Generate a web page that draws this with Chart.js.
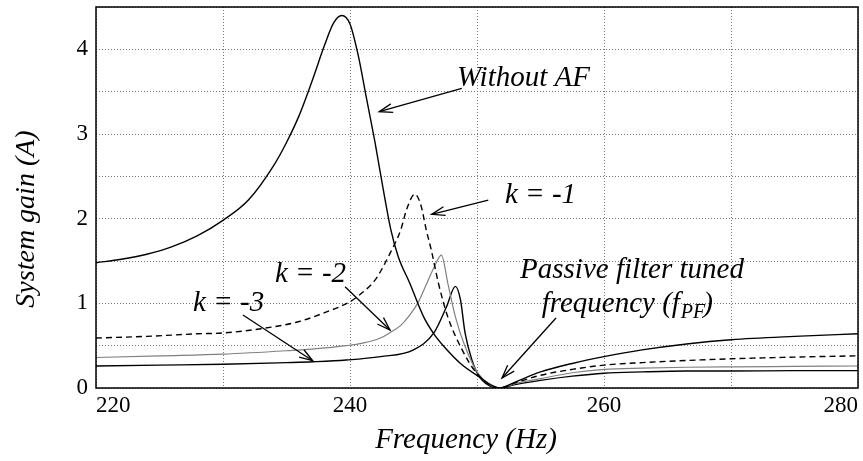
<!DOCTYPE html>
<html>
<head>
<meta charset="utf-8">
<script src="https://cdn.jsdelivr.net/npm/chart.js@4/dist/chart.umd.min.js"></script>
<style>
html,body{margin:0;padding:0;background:#fff;}
canvas{display:block;}
</style>
</head>
<body>
<canvas id="c" width="863" height="461"></canvas>
<script>
// ---- data ----
const freqWithoutAF = [220,222,224,226,228,230,232,234,235,236,237,238,238.7,239.35,240,240.66,241.3,241.97,242.6,243.2,243.8,244.7,245.8,246.6,247.4,248.7,250,251.8,253,255,257.5,260,263,266.5,270,275,280];
const gainWithoutAF = [1.48,1.52,1.58,1.67,1.80,1.98,2.22,2.63,2.90,3.22,3.62,4.05,4.31,4.40,4.30,3.92,3.42,2.90,2.36,1.88,1.55,1.24,0.84,0.64,0.49,0.29,0.15,0,0.07,0.19,0.29,0.37,0.45,0.52,0.57,0.61,0.64];

const freqK1 = [220,224,228,230,233,236,238,240,241,242,243.15,244,244.46,245.1,245.6,246,246.4,246.96,247.7,248.7,250,251.8,253,255,257.5,260,263,266.5,270,275,280];
const gainK1 = [0.59,0.61,0.64,0.65,0.70,0.785,0.89,1.02,1.13,1.28,1.59,1.87,2.11,2.29,2.15,1.87,1.63,1.24,0.84,0.49,0.17,0,0.06,0.15,0.22,0.27,0.30,0.325,0.345,0.365,0.38];

const freqK2 = [220,225,230,235,237,239.7,241,242.4,243.1,244,244.7,245.4,246,246.6,247.2,247.7,248.3,249.06,250.1,251.8,253,255,257.5,260,263,266.5,270,275,280];
const gainK2 = [0.36,0.38,0.40,0.44,0.46,0.50,0.53,0.59,0.65,0.74,0.86,1.02,1.22,1.42,1.57,1.24,0.84,0.49,0.17,0,0.05,0.11,0.18,0.22,0.235,0.245,0.25,0.255,0.26];

const freqK3 = [220,225,230,235,237.1,239.7,242.4,245,246.6,247.6,248.3,248.7,249.06,249.6,250.2,251.8,253,255,257.5,260,263,266.5,270,275,280];
const gainK3 = [0.26,0.27,0.28,0.30,0.31,0.33,0.37,0.45,0.65,0.96,1.20,1.04,0.65,0.33,0.13,0,0.04,0.09,0.14,0.175,0.19,0.20,0.20,0.205,0.205];

const xTickStep = 10;   // grid every 10 Hz, labels every 20 Hz
const yTickStep = 0.5;  // grid every 0.5, labels at integers

const serif = "'Liberation Serif','Times New Roman',serif";

function pts(xs, ys){ return xs.map((x,i)=>({x:x, y:ys[i]})); }

// annotation texts and arrows (positions in data units)
const notes = [
  {text:'Without AF', x:248.43, y:3.567},
  {text:'k = -1', x:252.2, y:2.185},
  {text:'k = -2', x:234.09, y:1.252},
  {text:'k = -3', x:227.64, y:0.909},
  {text:'Passive filter tuned', x:253.39, y:1.299}
];
const arrows = [
  {x0:248.80, y0:3.540, x1:242.30, y1:3.263},
  {x0:250.89, y0:2.220, x1:246.43, y1:2.051},
  {x0:239.61, y0:1.196, x1:243.15, y1:0.685},
  {x0:231.57, y0:0.862, x1:237.06, y1:0.322},
  {x0:256.22, y0:0.827, x1:251.97, y1:0.118}
];

const annot = {
  id:'annot',
  afterDraw(chart){
    const ctx = chart.ctx, xs = chart.scales.x, ys = chart.scales.y, a = chart.chartArea;
    ctx.save();
    // frame
    ctx.strokeStyle = '#000'; ctx.lineWidth = 1.5; ctx.setLineDash([]);
    ctx.strokeRect(a.left, a.top, a.right - a.left, a.bottom - a.top);
    // texts
    ctx.fillStyle = '#000';
    ctx.textBaseline = 'alphabetic'; ctx.textAlign = 'left';
    ctx.font = 'italic 29px ' + serif;
    notes.forEach(n => ctx.fillText(n.text, xs.getPixelForValue(n.x), ys.getPixelForValue(n.y)));
    // frequency (f_PF)
    let fx = xs.getPixelForValue(255.09), fy = ys.getPixelForValue(0.901);
    const s1 = 'frequency (f';
    ctx.fillText(s1, fx, fy);
    fx += ctx.measureText(s1).width + 1;
    ctx.font = 'italic 20px ' + serif;
    ctx.fillText('PF', fx, fy + 6);
    fx += ctx.measureText('PF').width - 2;
    ctx.font = 'italic 29px ' + serif;
    ctx.fillText(')', fx, fy);
    // arrows
    ctx.strokeStyle = '#000'; ctx.lineWidth = 1.3;
    arrows.forEach(ar => {
      const x0 = xs.getPixelForValue(ar.x0), y0 = ys.getPixelForValue(ar.y0);
      const x1 = xs.getPixelForValue(ar.x1), y1 = ys.getPixelForValue(ar.y1);
      ctx.beginPath(); ctx.moveTo(x0,y0); ctx.lineTo(x1,y1); ctx.stroke();
      const ang = Math.atan2(y0-y1, x0-x1), L = 14, w = 0.32;
      ctx.beginPath();
      ctx.moveTo(x1 + L*Math.cos(ang+w), y1 + L*Math.sin(ang+w));
      ctx.lineTo(x1, y1);
      ctx.lineTo(x1 + L*Math.cos(ang-w), y1 + L*Math.sin(ang-w));
      ctx.stroke();
    });
    // axis titles
    ctx.font = 'italic 29px ' + serif;
    ctx.textAlign = 'center';
    ctx.fillText('Frequency (Hz)', 466, 448);
    ctx.font = 'italic 28px ' + serif;
    ctx.translate(34, 219);
    ctx.rotate(-Math.PI/2);
    ctx.fillText('System gain (A)', 0, 0);
    ctx.restore();
  }
};

new Chart(document.getElementById('c'), {
  type:'line',
  data:{
    datasets:[
      {label:'Without AF', data:pts(freqWithoutAF, gainWithoutAF), borderColor:'#000', borderWidth:1.4},
      {label:'k = -1', data:pts(freqK1, gainK1), borderColor:'#000', borderWidth:1.4, borderDash:[6,4]},
      {label:'k = -2', data:pts(freqK2, gainK2), borderColor:'#808080', borderWidth:1.2},
      {label:'k = -3', data:pts(freqK3, gainK3), borderColor:'#000', borderWidth:1.4}
    ]
  },
  options:{
    responsive:false,
    animation:false,
    devicePixelRatio:1,
    layout:{padding:{top:7, right:5, left:0, bottom:0}},
    elements:{point:{radius:0}, line:{cubicInterpolationMode:'monotone', fill:false}},
    plugins:{legend:{display:false}, tooltip:{enabled:false}},
    scales:{
      x:{
        type:'linear', min:220, max:280,
        afterFit(s){ s.height = 73; s.paddingLeft = 0; s.paddingRight = 0; },
        grid:{color:'#777', lineWidth:1, drawTicks:false},
        border:{display:false, dash:[1,2]},
        ticks:{stepSize:xTickStep, align:'inner', padding:4, color:'#000', maxRotation:0,
          font:{family:serif, size:23},
          callback:v => (v % 20 === 0 ? String(v) : '')}
      },
      y:{
        type:'linear', min:0, max:4.5,
        afterFit(s){ s.width = 96; s.paddingTop = 0; s.paddingBottom = 0; },
        grid:{color:'#777', lineWidth:1, drawTicks:false},
        border:{display:false, dash:[1,2]},
        ticks:{stepSize:yTickStep, padding:8, color:'#000',
          font:{family:serif, size:23},
          callback:v => (Number.isInteger(v) ? String(v) : '')}
      }
    }
  },
  plugins:[annot]
});
</script>
</body>
</html>
